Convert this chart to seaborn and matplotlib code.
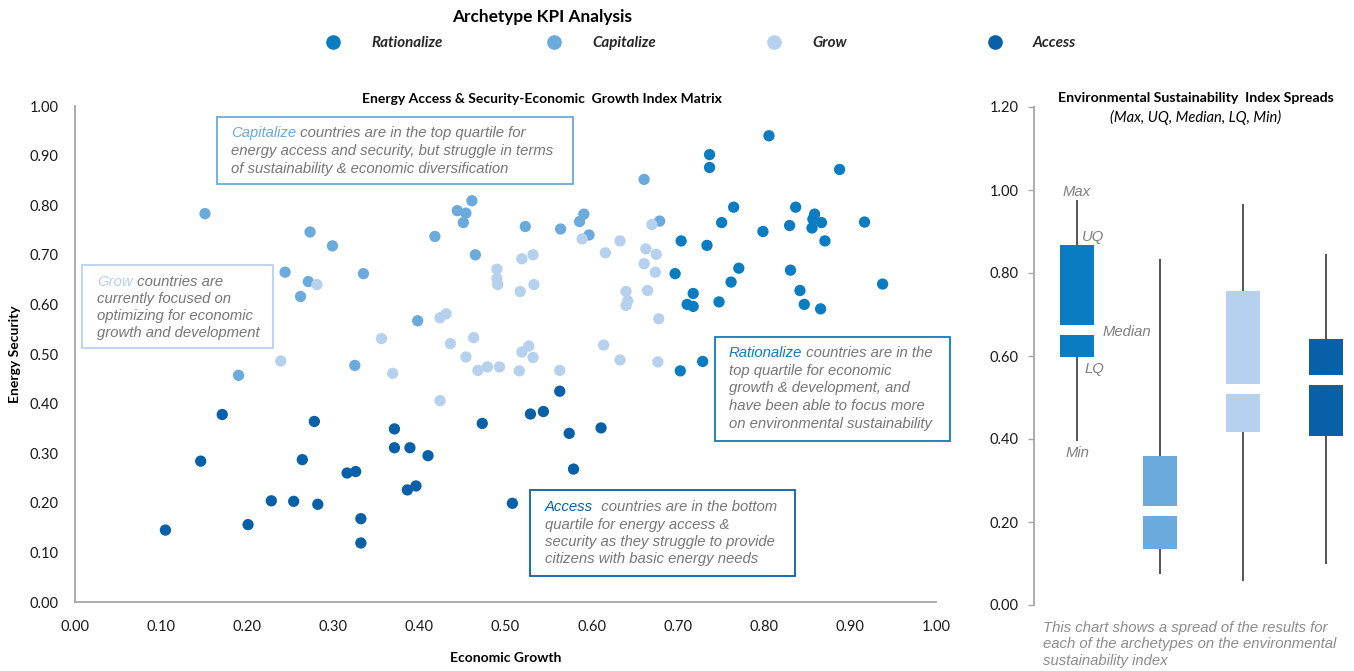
import numpy as np
import pandas as pd
import matplotlib
matplotlib.use("Agg")
import matplotlib.pyplot as plt
from matplotlib.lines import Line2D
from matplotlib.patches import Rectangle
from matplotlib.ticker import FormatStrFormatter
import seaborn as sns

# ---------------- data ----------------
archetypes = ["Rationalize", "Capitalize", "Grow", "Access"]
colors = ["#0A7CC1", "#6AAADC", "#B6D1EE", "#0760A8"]

rationalize_x = [0.806, 0.737, 0.737, 0.888, 0.765, 0.837, 0.859, 0.857, 0.867, 0.856,
                 0.917, 0.830, 0.751, 0.799, 0.704, 0.734, 0.871, 0.697, 0.771, 0.762,
                 0.831, 0.938, 0.718, 0.711, 0.718, 0.748, 0.842, 0.847, 0.866, 0.703, 0.729]
rationalize_y = [0.940, 0.902, 0.876, 0.872, 0.796, 0.796, 0.782, 0.772, 0.765, 0.754,
                 0.766, 0.759, 0.765, 0.747, 0.728, 0.719, 0.728, 0.662, 0.673, 0.645,
                 0.669, 0.641, 0.622, 0.600, 0.596, 0.605, 0.628, 0.600, 0.591, 0.466, 0.485]

capitalize_x = [0.151, 0.273, 0.299, 0.244, 0.271, 0.262, 0.335, 0.661, 0.461, 0.444,
                0.454, 0.451, 0.523, 0.564, 0.591, 0.586, 0.597, 0.679, 0.418, 0.465,
                0.398, 0.325, 0.190]
capitalize_y = [0.783, 0.746, 0.718, 0.665, 0.646, 0.616, 0.662, 0.852, 0.809, 0.789,
                0.784, 0.765, 0.757, 0.752, 0.782, 0.767, 0.740, 0.768, 0.737, 0.700,
                0.567, 0.477, 0.457]

grow_x = [0.281, 0.589, 0.633, 0.616, 0.670, 0.663, 0.661, 0.675, 0.674, 0.665,
          0.678, 0.490, 0.490, 0.491, 0.519, 0.532, 0.533, 0.517, 0.640, 0.642,
          0.640, 0.424, 0.431, 0.356, 0.436, 0.463, 0.527, 0.614, 0.519, 0.532,
          0.633, 0.369, 0.454, 0.468, 0.479, 0.493, 0.516, 0.563, 0.424, 0.239, 0.677]
grow_y = [0.640, 0.732, 0.728, 0.704, 0.761, 0.712, 0.682, 0.701, 0.665, 0.628,
          0.571, 0.671, 0.652, 0.640, 0.692, 0.700, 0.640, 0.626, 0.626, 0.607,
          0.598, 0.573, 0.581, 0.531, 0.521, 0.533, 0.516, 0.518, 0.504, 0.493,
          0.488, 0.461, 0.494, 0.467, 0.474, 0.474, 0.466, 0.467, 0.406, 0.486, 0.484]

access_x = [0.563, 0.529, 0.544, 0.473, 0.574, 0.611, 0.579, 0.371, 0.371, 0.389,
            0.410, 0.326, 0.316, 0.386, 0.396, 0.332, 0.332, 0.508, 0.171, 0.278,
            0.146, 0.264, 0.228, 0.254, 0.282, 0.201, 0.105]
access_y = [0.425, 0.379, 0.384, 0.360, 0.340, 0.351, 0.268, 0.349, 0.311, 0.311,
            0.295, 0.263, 0.260, 0.226, 0.234, 0.168, 0.119, 0.199, 0.378, 0.364,
            0.284, 0.287, 0.204, 0.203, 0.197, 0.156, 0.145]

# environmental sustainability index spreads
box_max = [0.976, 0.834, 0.966, 0.846]
box_uq = [0.867, 0.359, 0.757, 0.641]
box_median = [0.662, 0.226, 0.520, 0.542]
box_lq = [0.597, 0.135, 0.418, 0.408]
box_min = [0.394, 0.074, 0.059, 0.099]
median_gap = 0.024

x_ticks = [0.0, 0.1, 0.2, 0.3, 0.4, 0.5, 0.6, 0.7, 0.8, 0.9, 1.0]
y_ticks = [0.0, 0.1, 0.2, 0.3, 0.4, 0.5, 0.6, 0.7, 0.8, 0.9, 1.0]
box_ticks = [0.0, 0.2, 0.4, 0.6, 0.8, 1.0, 1.2]

df = pd.concat([
    pd.DataFrame({"Economic Growth": rationalize_x, "Energy Security": rationalize_y, "Archetype": "Rationalize"}),
    pd.DataFrame({"Economic Growth": capitalize_x, "Energy Security": capitalize_y, "Archetype": "Capitalize"}),
    pd.DataFrame({"Economic Growth": grow_x, "Energy Security": grow_y, "Archetype": "Grow"}),
    pd.DataFrame({"Economic Growth": access_x, "Energy Security": access_y, "Archetype": "Access"}),
], ignore_index=True)

# ---------------- style ----------------
sns.set_theme(style="white")
plt.rcParams["font.family"] = ["Lato", "DejaVu Sans"]

W, H = 1354, 671
fig = plt.figure(figsize=(W / 100, H / 100), dpi=100)
fig.patch.set_facecolor("white")

SPINE = "#A6A6A6"
GRAY_TXT = "#767676"
TICK_TXT = "#1A1A1A"
palette = dict(zip(archetypes, colors))

# ---------------- scatter ----------------
ax1 = fig.add_axes([75 / W, 1 - 602 / H, (936 - 75) / W, (602 - 106) / H])
sns.scatterplot(data=df, x="Economic Growth", y="Energy Security", hue="Archetype",
                hue_order=archetypes, palette=palette, s=66, linewidth=0, alpha=1,
                legend=False, ax=ax1, zorder=3)
ax1.set_xlim(0, 1)
ax1.set_ylim(0, 1)
ax1.set_xticks(x_ticks)
ax1.set_yticks(y_ticks)
ax1.xaxis.set_major_formatter(FormatStrFormatter("%.2f"))
ax1.yaxis.set_major_formatter(FormatStrFormatter("%.2f"))
ax1.tick_params(axis="both", length=0, labelsize=10.5, colors=TICK_TXT)
ax1.tick_params(axis="x", pad=13)
ax1.tick_params(axis="y", pad=12)
for s in ["top", "right"]:
    ax1.spines[s].set_visible(False)
for s in ["left", "bottom"]:
    ax1.spines[s].set_color(SPINE)
    ax1.spines[s].set_linewidth(1.3)
ax1.grid(False)
ax1.set_xlabel("Economic Growth", fontsize=10, fontweight="bold", color="black", labelpad=13)
ax1.set_ylabel("Energy Security", fontsize=10, fontweight="bold", color="black", labelpad=6)
ax1.text(0.542, 1.0141, "Energy Access & Security-Economic  Growth Index Matrix",
         transform=ax1.transAxes, ha="center", va="center", fontsize=10,
         fontweight="bold", color="black")

# annotation boxes: (key word, colour, rest of first line, other lines,
#                    text x, first baseline y, line step, frame x0, y0, x1, y1) in axes fractions
ann_font = dict(family=["Liberation Sans", "DejaVu Sans"], style="italic", fontsize=10.7)
notes = [
    ("Capitalize", colors[1], " countries are in the top quartile for",
     ["energy access and security, but struggle in terms",
      "of sustainability & economic diversification"],
     0.181, 0.9375, 0.0363, 0.165, 0.843, 0.578, 0.978),
    ("Grow", colors[2], " countries are",
     ["currently focused on", "optimizing for economic", "growth and development"],
     0.0256, 0.637, 0.0343, 0.008, 0.512, 0.230, 0.679),
    ("Rationalize", colors[0], " countries are in the",
     ["top quartile for economic", "growth & development, and",
      "have been able to focus more", "on environmental sustainability"],
     0.7596, 0.494, 0.0358, 0.743, 0.325, 1.016, 0.534),
    ("Access", colors[3], "  countries are in the bottom",
     ["quartile for energy access &", "security as they struggle to provide",
      "citizens with basic energy needs"],
     0.546, 0.183, 0.0349, 0.528, 0.052, 0.836, 0.226),
]
for word, col, rest, lines, tx, ty, step, x0, y0, x1, y1 in notes:
    ax1.add_patch(Rectangle((x0, y0), x1 - x0, y1 - y0, transform=ax1.transAxes,
                            facecolor="white", edgecolor=col, linewidth=1.3,
                            zorder=4, clip_on=False))
    wt = ax1.text(tx, ty, word, transform=ax1.transAxes, ha="left", va="baseline",
                  color=col, zorder=6, **ann_font)
    ax1.annotate(rest, xy=(1, 0), xycoords=wt, xytext=(0, 0), textcoords="offset points",
                 ha="left", va="bottom", color=GRAY_TXT, zorder=6, **ann_font)
    for i, ln in enumerate(lines, start=1):
        ax1.text(tx, ty - i * step, ln, transform=ax1.transAxes, ha="left",
                 va="baseline", color=GRAY_TXT, zorder=6, **ann_font)

# ---------------- box spreads ----------------
ax2 = fig.add_axes([1034 / W, 1 - 605 / H, (W - 1034) / W, (605 - 107) / H])
pos = np.arange(len(archetypes))
bw = 0.41
lower_top = [m - median_gap / 2 for m in box_median]
upper_bot = [m + median_gap / 2 for m in box_median]
ax2.vlines(pos, box_min, box_lq, color="#262626", linewidth=1.1, zorder=1)
ax2.vlines(pos, box_uq, box_max, color="#262626", linewidth=1.1, zorder=1)
ax2.bar(pos, np.array(lower_top) - np.array(box_lq), bottom=box_lq, width=bw,
        color=colors, linewidth=0, zorder=2)
ax2.bar(pos, np.array(box_uq) - np.array(upper_bot), bottom=upper_bot, width=bw,
        color=colors, linewidth=0, zorder=2)
ax2.set_xlim(-0.518, 3.337)
ax2.set_ylim(0, 1.2)
ax2.set_yticks(box_ticks)
ax2.yaxis.set_major_formatter(FormatStrFormatter("%.2f"))
ax2.set_xticks([])
ax2.tick_params(axis="y", length=4, width=1, color=SPINE, labelsize=10.5,
                labelcolor=TICK_TXT, pad=7, left=True)
for s in ["top", "right", "bottom"]:
    ax2.spines[s].set_visible(False)
ax2.spines["left"].set_color(SPINE)
ax2.spines["left"].set_linewidth(1.3)
ax2.grid(False)

lab_font = dict(family=["Liberation Sans", "DejaVu Sans"], style="italic", fontsize=10.7, color="#808080")
ax2.text(pos[0], box_max[0] + 0.002, "Max", ha="center", va="bottom", **lab_font)
ax2.text(pos[0] + 0.06, box_uq[0] + 0.002, "UQ", ha="left", va="bottom", **lab_font)
ax2.text(pos[0] + 0.31, box_median[0] - 0.005, "Median", ha="left", va="center", **lab_font)
ax2.text(pos[0] + 0.09, box_lq[0] - 0.012, "LQ", ha="left", va="top", **lab_font)
ax2.text(pos[0], box_min[0] - 0.010, "Min", ha="center", va="top", **lab_font)

fig.text(1196 / W, 1 - 98 / H, "Environmental Sustainability  Index Spreads",
         ha="center", va="center", fontsize=10.2, fontweight="bold", color="black")
fig.text(1196 / W, 1 - 117 / H, "(Max, UQ, Median, LQ, Min)",
         ha="center", va="center", fontsize=10.6, style="italic", color="black")
fig.text(1043 / W, 1 - 621 / H,
         "This chart shows a spread of the results for\neach of the archetypes on the environmental\nsustainability index",
         ha="left", va="top", linespacing=1.22, color="#8C8C8C", **ann_font)

# ---------------- title & legend ----------------
fig.text(542 / W, 1 - 17 / H, "Archetype KPI Analysis", ha="center", va="center",
         fontsize=12.4, fontweight="bold", color="black")
leg_fs = 10.9
leg_px = leg_fs * 100 / 72
for name, col, mx in zip(archetypes, colors, [333, 554, 774, 995]):
    h = Line2D([], [], marker="o", linestyle="", color=col, markersize=9.5)
    fig.legend([h], [name], loc="center left",
               bbox_to_anchor=((mx - leg_px / 2) / W, 1 - 43 / H),
               frameon=False, borderpad=0, borderaxespad=0, handlelength=1,
               handletextpad=(38 - leg_px / 2) / leg_px,
               prop=dict(family="Lato", weight="bold", style="italic", size=leg_fs))

fig.savefig("out.png", dpi=100, facecolor="white")
